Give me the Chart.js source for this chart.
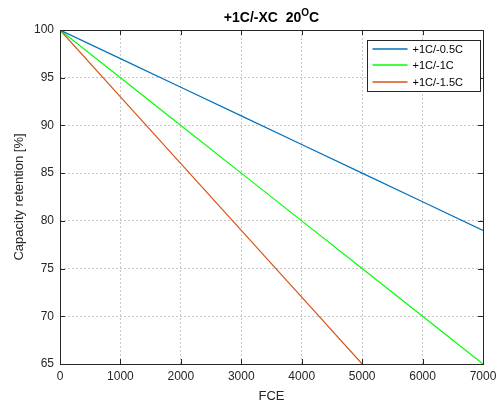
<!DOCTYPE html>
<html>
<head>
<meta charset="UTF-8">
<title>+1C/-XC 20°C</title>
<script src="https://cdn.jsdelivr.net/npm/chart.js"></script>
<style>
  body { margin: 0; background: #ffffff; }
  #wrap { width: 498px; height: 404px; position: relative; }
</style>
</head>
<body>
<div id="wrap"><canvas id="chart"></canvas></div>
<script>
// values
const fce = [0, 1000, 2000, 3000, 4000, 5000, 6000, 7000];
const rate05 = [100, 97, 94, 91, 88, 85, 82, 79];
const rate10 = [100, 95, 90, 85, 80, 75, 70, 65];
const rate15 = [100, 93, 86, 79, 72, 65];
const seriesNames = ['+1C/-0.5C', '+1C/-1C', '+1C/-1.5C'];
const seriesColors = ['#0072BD', '#00FF00', '#D95319'];

const FONT = '"Liberation Sans", Arial, sans-serif';

function toPoints(ys) {
  return ys.map((y, i) => ({ x: fce[i], y: y }));
}

// box, inward ticks, title and legend drawn like the MATLAB figure
const matlabLook = {
  id: 'matlabLook',
  afterDraw(chart) {
    const ctx = chart.ctx;
    const a = chart.chartArea;
    const xs = chart.scales.x, ys = chart.scales.y;
    ctx.save();
    ctx.strokeStyle = '#262626';
    ctx.lineWidth = 1;
    ctx.beginPath();
    xs.ticks.forEach(t => {
      const px = Math.round(xs.getPixelForValue(t.value)) + 0.5;
      ctx.moveTo(px, a.bottom); ctx.lineTo(px, a.bottom - 5);
      ctx.moveTo(px, a.top); ctx.lineTo(px, a.top + 5);
    });
    ys.ticks.forEach(t => {
      const py = Math.round(ys.getPixelForValue(t.value)) + 0.5;
      ctx.moveTo(a.left, py); ctx.lineTo(a.left + 5, py);
      ctx.moveTo(a.right, py); ctx.lineTo(a.right - 5, py);
    });
    ctx.stroke();
    ctx.strokeRect(Math.round(a.left) + 0.5, Math.round(a.top) + 0.5,
      Math.round(a.right - a.left), Math.round(a.bottom - a.top));

    // title with superscript
    ctx.fillStyle = '#000';
    ctx.textBaseline = 'alphabetic';
    const p1 = '+1C/-XC  20', p3 = 'C';
    ctx.font = 'bold 10px ' + FONT;
    const w2 = ctx.measureText('O').width;
    ctx.font = 'bold 14px ' + FONT;
    const w1 = ctx.measureText(p1).width, w3 = ctx.measureText(p3).width;
    let tx = (a.left + a.right) / 2 - (w1 + w2 + w3) / 2;
    const ty = 22;
    ctx.textAlign = 'left';
    ctx.fillText(p1, tx, ty);
    ctx.font = 'bold 10px ' + FONT;
    ctx.fillText('O', tx + w1, ty - 6);
    ctx.font = 'bold 14px ' + FONT;
    ctx.fillText(p3, tx + w1 + w2, ty);

    // legend
    const lx = 367.5, ly = 40.5, lw = 113, lh = 51;
    ctx.fillStyle = '#fff';
    ctx.fillRect(lx, ly, lw, lh);
    ctx.strokeStyle = '#262626';
    ctx.strokeRect(lx, ly, lw, lh);
    ctx.font = '11px ' + FONT;
    ctx.textBaseline = 'middle';
    const rows = [49, 65, 82];
    seriesNames.forEach((n, i) => {
      const yy = rows[i];
      ctx.strokeStyle = seriesColors[i];
      ctx.globalAlpha = 0.75;
      ctx.lineWidth = 2;
      ctx.beginPath();
      ctx.moveTo(lx + 5, yy); ctx.lineTo(lx + 40, yy);
      ctx.stroke();
      ctx.globalAlpha = 1;
      ctx.fillStyle = '#000';
      ctx.fillText(n, lx + 45, yy + 0.5);
    });
    ctx.restore();
  }
};

const data = {
  datasets: [
    { label: seriesNames[0], data: toPoints(rate05), borderColor: seriesColors[0] },
    { label: seriesNames[1], data: toPoints(rate10), borderColor: seriesColors[1] },
    { label: seriesNames[2], data: toPoints(rate15), borderColor: seriesColors[2] }
  ]
};

new Chart(document.getElementById('chart'), {
  type: 'line',
  data: data,
  options: {
    responsive: true,
    maintainAspectRatio: false,
    animation: false,
    layout: { padding: { left: 0, right: 15, top: 30, bottom: 0 } },
    elements: {
      point: { radius: 0 },
      line: { borderWidth: 1.2, tension: 0 }
    },
    plugins: { legend: { display: false }, tooltip: { enabled: false } },
    scales: {
      x: {
        type: 'linear',
        min: 0, max: 7000,
        ticks: { stepSize: 1000, color: '#262626', font: { family: FONT, size: 12 }, padding: 5, maxRotation: 0,
          callback: v => String(v) },
        grid: { color: '#c8c8c8', drawTicks: false },
        border: { display: false, dash: [2, 2] },
        title: { display: true, text: 'FCE', color: '#262626', font: { family: FONT, size: 13 }, padding: { top: 4, bottom: 0 } },
        afterFit(s) { s.height = 40; s.paddingRight = 0; }
      },
      y: {
        min: 65, max: 100,
        ticks: { stepSize: 5, color: '#262626', font: { family: FONT, size: 12 }, padding: 6 },
        grid: { color: '#c8c8c8', drawTicks: false },
        border: { display: false, dash: [2, 2] },
        title: { display: true, text: 'Capacity retention [%]', color: '#262626', font: { family: FONT, size: 13 }, padding: { top: 12, bottom: 4 } },
        afterFit(s) { s.width = 60; }
      }
    }
  },
  plugins: [matlabLook]
});
</script>
</body>
</html>
